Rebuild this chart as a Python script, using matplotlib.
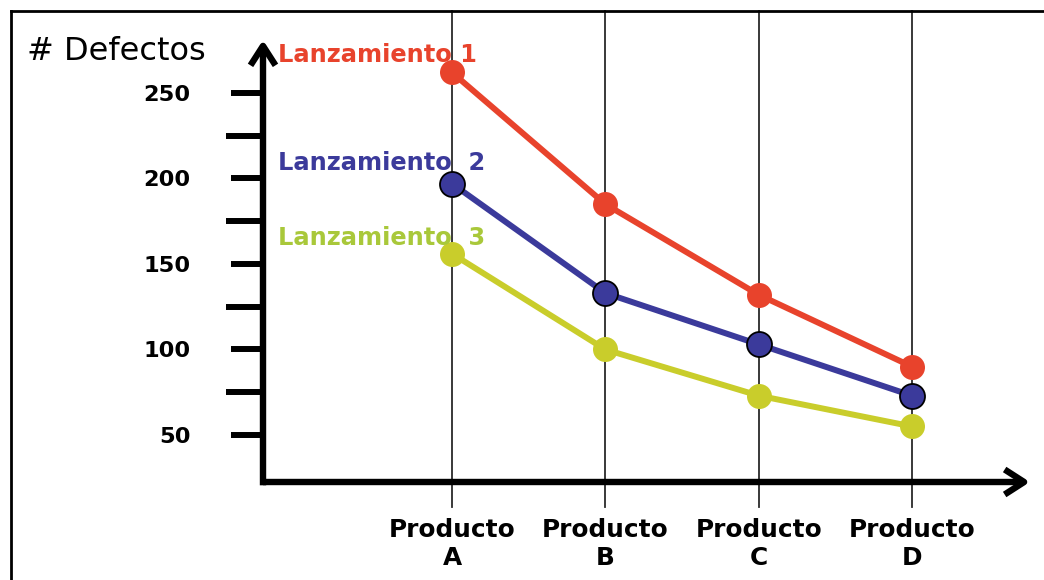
import matplotlib
matplotlib.use('Agg')
import matplotlib.pyplot as plt
from matplotlib.lines import Line2D

# ---- data ----
products = ['A', 'B', 'C', 'D']
product_labels = ['Producto\nA', 'Producto\nB', 'Producto\nC', 'Producto\nD']
series_names = ['Lanzamiento 1', 'Lanzamiento  2', 'Lanzamiento  3']
lanz1 = [262, 185, 132, 90]
lanz2 = [197, 133, 103, 73]
lanz3 = [156, 100, 73, 55]
ytick_values = [50, 100, 150, 200, 250]
ytick_labels = ['50', '100', '150', '200', '250']
yminor_values = [75, 125, 175, 225]
y_title = '# Defectos'

# ---- styles ----
line_colors = ['#E8432C', '#3B3A9B', '#C9CD2B']
text_colors = ['#E8432C', '#3B3A9B', '#A9C83A']
edge_colors = ['#E8432C', '#000000', '#C9CD2B']
label_baselines = [0.950, 0.706, 0.536]   # axes fraction

W, H = 1044, 580
fig = plt.figure(figsize=(W / 100, H / 100), dpi=100)
fig.patch.set_facecolor('white')
ax = fig.add_axes([263 / W, 1 - 482 / H, (1030 - 263) / W, (482 - 40) / H])
ax.set_xlim(-1.233, 3.770)
ax.set_ylim(22.5, 281)
for s in ax.spines.values():
    s.set_visible(False)
ax.patch.set_alpha(0)

# vertical guide lines
x = list(range(len(products)))
for xi in x:
    ax.axvline(xi, ymin=-0.0566, ymax=1.0656, color='#2a2a2a', lw=1.3,
               clip_on=False, zorder=1)

# axis arrows
arrow_style = '->,head_length=0.7,head_width=0.45'
ax.annotate('', xy=(0, 1), xytext=(0, -0.0075), xycoords='axes fraction',
            arrowprops=dict(arrowstyle=arrow_style, lw=4.6, color='black',
                            shrinkA=0, shrinkB=0, mutation_scale=20,
                            capstyle='butt'), zorder=3)
ax.annotate('', xy=(1, 0), xytext=(0, 0), xycoords='axes fraction',
            arrowprops=dict(arrowstyle=arrow_style, lw=4.6, color='black',
                            shrinkA=0, shrinkB=0, mutation_scale=20,
                            capstyle='butt'), zorder=3)

# ticks
ax.set_yticks(ytick_values, labels=ytick_labels)
ax.set_yticks(yminor_values, minor=True)
ax.tick_params(axis='y', which='major', length=23, width=4.3, pad=29,
               labelsize=16.2, direction='out', color='black')
ax.tick_params(axis='y', which='minor', length=27, width=4.3,
               direction='out', color='black')
for lbl in ax.get_yticklabels():
    lbl.set_fontweight('bold')

ax.set_xticks(x, labels=product_labels)
ax.tick_params(axis='x', length=0, pad=26, labelsize=17.8)
for lbl in ax.get_xticklabels():
    lbl.set_fontweight('bold')
    lbl.set_linespacing(1.2)

# series
for vals, c, ec, z in zip([lanz1, lanz2, lanz3], line_colors, edge_colors, [5, 4, 4]):
    ax.plot(x, vals, color=c, lw=4.3, marker='o', ms=18, mfc=c, mec=ec,
            mew=1.3 if ec == '#000000' else 0, zorder=z, clip_on=False,
            solid_capstyle='round')

# series labels
for name, tc, yb in zip(series_names, text_colors, label_baselines):
    ax.text(0.0196, yb, name, transform=ax.transAxes, color=tc,
            fontsize=17.4, fontweight='bold', va='baseline', ha='left', zorder=6)

# y title
fig.text(27 / W, 1 - 60 / H, y_title, fontsize=23, va='baseline', ha='left')

# frame
fig.add_artist(Line2D([11 / W, 1], [1 - 11 / H, 1 - 11 / H], color='black', lw=2))
fig.add_artist(Line2D([11 / W, 11 / W], [0, 1 - 11 / H], color='black', lw=2))

fig.savefig('out.png', dpi=100, facecolor='white')
